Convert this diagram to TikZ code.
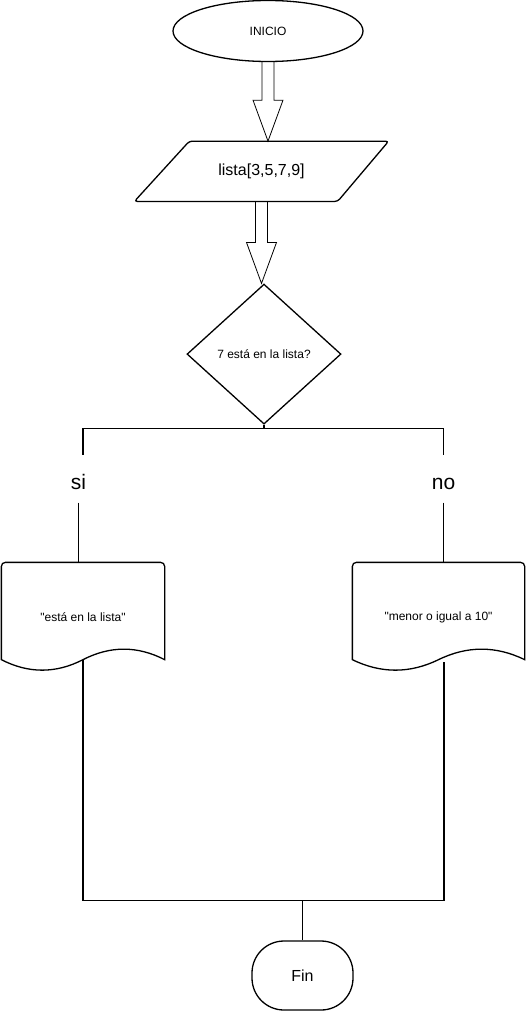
\documentclass[tikz,border=0pt]{standalone}
\usepackage{fontspec}
\setmainfont{Liberation Sans}
\usetikzlibrary{shapes.geometric,positioning,calc}

\begin{document}
\begin{tikzpicture}[x=1pt,y=1pt,line width=1.3pt,font=\fontsize{12}{14}\selectfont,
  startstop/.style={ellipse,draw,minimum width=190pt,minimum height=61pt},
  datain/.style={rectangle,minimum width=253pt,minimum height=59pt,font=\fontsize{16}{19}\selectfont},
  decision/.style={diamond,draw,minimum width=154pt,minimum height=140pt,inner sep=0pt},
  docbox/.style={rectangle,minimum width=#1,minimum height=106pt},
  blockarrow/.style={line width=0.8pt,to path={let \p1=(\tikztostart), \p2=(\tikztotarget) in
    (\x1-6pt,\y1) -- (\x1-6pt,\y2+41pt) -- (\x1-15pt,\y2+41pt) -- (\x1,\y2)
    -- (\x1+15pt,\y2+41pt) -- (\x1+6pt,\y2+41pt) -- (\x1+6pt,\y1)}},
  answer/.style={minimum height=46pt,inner sep=0pt,text height=20pt,text depth=0pt,
    font=\fontsize{21}{25}\selectfont},
  terminal/.style={rectangle,draw,rounded corners=32pt,minimum width=101pt,minimum height=69pt,
    font=\fontsize{16}{19}\selectfont}]

  \useasboundingbox (0,0) rectangle (525,-1012);

  \node[startstop] (inicio) at (268,-31) {INICIO};
  \node[datain] (lista) [below=79pt of inicio, xshift=-6.5pt] {lista[3,5,7,9]};
  \node[decision] (dec) [below=82pt of lista, xshift=2.5pt] {7 está en la lista?};

  % parallelogram outline
  \draw[rounded corners=3pt] (lista.south west) -- ([xshift=55pt]lista.north west) -- (lista.north east)
    -- ([xshift=-51pt]lista.south east) -- cycle;

  \draw[blockarrow] (inicio.south) to (lista.north);
  \draw[blockarrow] (lista.south) to (dec.north);

  \node[answer] (si) at (78.5,-479) {si};
  \node[answer] (no) at (443.5,-479) {no};

  \node[docbox=162pt] (doca) at (83,-617) {\textquotedbl está en la lista\textquotedbl};
  \node[docbox=171pt] (docb) at (438.5,-617) {\textquotedbl menor o igual a 10\textquotedbl};

  \node[terminal] (fin) at (302.5,-975.5) {Fin};

  % document outlines with wavy bottom
  \foreach \d in {doca,docb}
    \draw ([yshift=11pt]\d.south west) [rounded corners=4pt] -- ([yshift=1pt]\d.north west) -- ([yshift=1pt]\d.north east)
      [sharp corners] -- ([yshift=11pt]\d.south east)
      .. controls ($(\d.south west)!5/6!(\d.south east)+(0,25)$) and ($(\d.south west)!2/3!(\d.south east)+(0,25)$) .. ([yshift=11pt]\d.south)
      .. controls ($(\d.south west)!1/3!(\d.south east)+(0,-3)$) and ($(\d.south west)!1/6!(\d.south east)+(0,-3)$) .. cycle;

  % branches
  \draw (dec.south) -- ++(0,-4) coordinate (fork);
  \draw (fork) -| ([xshift=4.5pt]si.north);
  \draw (fork) -| (no.north);
  \draw (si.south) -- ([yshift=1pt]si.south |- doca.north);
  \draw (no.south) -- ([yshift=1pt]no.south |- docb.north);

  % merge
  \coordinate (join) at ([yshift=40pt]fin.north);
  \draw ([yshift=11pt]doca.south) |- (join) -| ([xshift=5.5pt,yshift=9pt]docb.south);
  \draw (join) -- (fin.north);

\end{tikzpicture}
\end{document}
